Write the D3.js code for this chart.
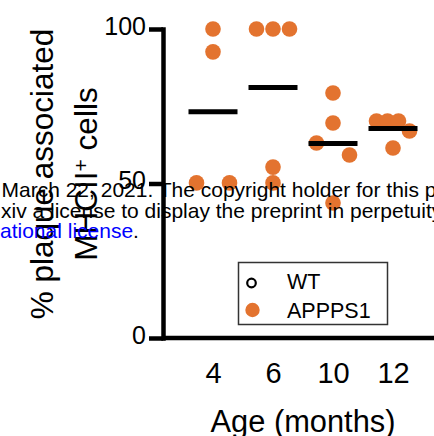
<!DOCTYPE html>
<html>
<head>
<meta charset="utf-8">
<script src="https://cdn.jsdelivr.net/npm/d3@7"></script>
<style>
  body { margin: 0; background: #fff; }
  svg { display: block; font-family: "Liberation Sans", Arial, sans-serif; }
</style>
</head>
<body>
<svg id="chart" width="434" height="436"></svg>
<script>
// values (APPPS1 only, WT group has no points here)
const ages = ["4", "6", "10", "12"];
const apppsValues = [
  [100, 92.6, 50.2, 50.2],
  [100, 100, 100, 55.3, 50.2],
  [79.3, 69.6, 63.1, 59.2, 43.7],
  [70.2, 70.2, 70.2, 67.0, 61.5]
];
const yTicks = [0, 50, 100];
const legendLabels = ["WT", "APPPS1"];
const watermark = [
  "March 22, 2021. The copyright holder for this preprint",
  "xiv a license to display the preprint in perpetuity."
];

const orange = "#e3732f";
const r = 7.8;
const spread = 33;

const svg = d3.select("#chart");

const x = d3.scalePoint().domain(ages).range([213, 393]);
const y = d3.scaleLinear().domain([0, 100]).range([338, 29]);

// simple prism-like rows: close values share a row and get spread out
function swarm(values) {
  const sorted = values.slice().sort((a, b) => b - a);
  const rows = [];
  sorted.forEach((v) => {
    const row = rows[rows.length - 1];
    if (row && y(v) - y(row[0]) < 15) row.push(v);
    else rows.push([v]);
  });
  return rows.flatMap((row) =>
    row.map((v, i) => ({
      value: v,
      dx: row.length > 1 ? (i / (row.length - 1) - 0.5) * spread : 0
    }))
  );
}

const groups = ages.map((a, i) => ({
  age: a,
  points: swarm(apppsValues[i]),
  mean: d3.mean(apppsValues[i])
}));

// dots
const g = svg.append("g");
groups.forEach((grp) => {
  g.selectAll(null)
    .data(grp.points)
    .enter()
    .append("circle")
    .attr("cx", (d) => x(grp.age) + d.dx)
    .attr("cy", (d) => y(d.value))
    .attr("r", r)
    .attr("fill", orange);
});

// mean lines
g.selectAll(".mean")
  .data(groups)
  .enter()
  .append("line")
  .attr("class", "mean")
  .attr("x1", (d) => x(d.age) - 24.5)
  .attr("x2", (d) => x(d.age) + 24.5)
  .attr("y1", (d) => y(d.mean))
  .attr("y2", (d) => y(d.mean))
  .attr("stroke", "#000")
  .attr("stroke-width", 5);

// Y-Axis
const yAxis = svg
  .append("g")
  .attr("transform", "translate(163,0)")
  .call(d3.axisLeft(y).tickValues(yTicks).tickSize(14).tickSizeOuter(0).tickPadding(3));
yAxis.select(".domain").attr("stroke-width", 4.5).attr("stroke-linecap", "square");
yAxis.selectAll(".tick line").attr("stroke-width", 4.5);
yAxis.selectAll(".tick text")
  .attr("dy", "0.2em")
  .style("font-size", "25px")
  .attr("fill", "#000");

// X-Axis baseline
svg
  .append("line")
  .attr("x1", 163)
  .attr("x2", 440)
  .attr("y1", y(0))
  .attr("y2", y(0))
  .attr("stroke", "#000")
  .attr("stroke-width", 4.5);

const xAxis = svg
  .append("g")
  .attr("transform", `translate(0,${y(0)})`)
  .call(d3.axisBottom(x).tickSize(0).tickPadding(24));
xAxis.select(".domain").remove();
xAxis.selectAll(".tick text").style("font-size", "29px").attr("fill", "#000");

// X-axis label
svg
  .append("text")
  .attr("x", 303)
  .attr("y", 432)
  .attr("text-anchor", "middle")
  .style("font-size", "30.8px")
  .text("Age (months)");

// Y-axis label (two lines)
const yl = svg
  .append("text")
  .attr("transform", "translate(53,174) rotate(-90)")
  .attr("text-anchor", "middle")
  .style("font-size", "31.5px");
yl.append("tspan").attr("x", 0).attr("y", 0).text("% plaque associated");
const l2 = yl.append("tspan").attr("x", 0).attr("y", 44);
l2.append("tspan").text("MHCII");
l2.append("tspan").attr("dy", -9).style("font-size", "21px").text("+");
l2.append("tspan").attr("dy", 9).text(" cells");

// legend
const legend = svg.append("g");
legend
  .append("rect")
  .attr("x", 238.5)
  .attr("y", 262.5)
  .attr("width", 149)
  .attr("height", 62)
  .attr("fill", "#fff")
  .attr("stroke", "#333")
  .attr("stroke-width", 1.5);
legend
  .append("circle")
  .attr("cx", 251.5)
  .attr("cy", 283)
  .attr("r", 4.3)
  .attr("fill", "none")
  .attr("stroke", "#000")
  .attr("stroke-width", 2.2);
legend
  .append("circle")
  .attr("cx", 252.5)
  .attr("cy", 310)
  .attr("r", 7.2)
  .attr("fill", orange);
legend
  .selectAll(".lab")
  .data(legendLabels)
  .enter()
  .append("text")
  .attr("class", "lab")
  .attr("x", 287)
  .attr("y", (d, i) => 288.5 + i * 29.5)
  .style("font-size", "21.5px")
  .text((d) => d);

// preprint watermark on top
const wm = svg.append("g").style("font-size", "21px");
wm.selectAll(".wm")
  .data(watermark)
  .enter()
  .append("text")
  .attr("class", "wm")
  .attr("x", (d, i) => (i === 0 ? 1.5 : 1))
  .attr("y", (d, i) => 197 + i * 21)
  .text((d) => d);
const l3 = wm.append("text").attr("x", 0).attr("y", 238);
l3.append("tspan").attr("fill", "#0000ff").text("ational license");
l3.append("tspan").text(".");
</script>
</body>
</html>
